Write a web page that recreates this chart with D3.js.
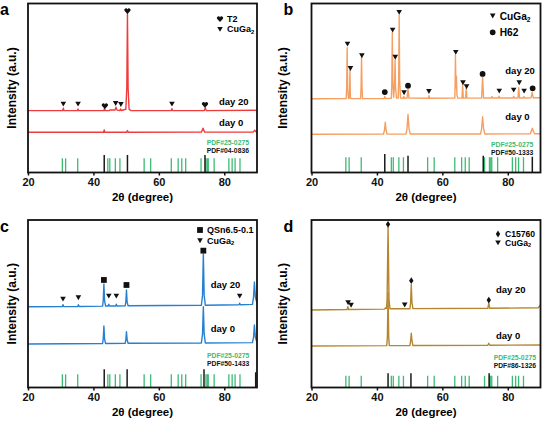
<!DOCTYPE html>
<html>
<head>
<meta charset="utf-8">
<script src="https://cdn.jsdelivr.net/npm/d3@7"></script>
<style>
  html, body { margin: 0; padding: 0; background: #fff; }
  svg { display: block; font-family: "Liberation Sans", Arial, sans-serif; font-weight: bold; }
</style>
</head>
<body>
<div id="chart"></div>
<script>
// intensities are in % of the frame height (0 = bottom, 100 = top)

// shared CuGa2 reference sticks, PDF#25-0275
const cuga2Sticks = [30.5, 31.5, 35.2, 44.4, 45.0, 46.7, 48.1, 55.5, 57.5, 63.8, 65.9, 67.0,
  68.2, 72.9, 74.4, 74.8, 75.1, 76.9, 81.4, 82.4, 83.3, 84.8];

// ---- panel a : T2
const aDay20 = [[20,36.6],[30.6,36.6],[30.8,38.0],[31.0,36.6],[35.1,36.6],[35.3,37.6],[35.5,36.6],
  [43.2,36.6],[43.4,38.0],[43.6,36.6],[44.8,36.7],[45.2,37.0],[46.6,37.0],[46.9,38.6],[47.2,36.9],
  [48.1,36.7],[48.3,37.6],[48.5,36.7],[49.9,37.4],[50.2,50],[50.4,94.4],[50.6,50],[50.9,37.4],
  [51.5,36.6],[63.8,36.6],[64.0,37.8],[64.2,36.6],[73.9,36.6],[74.2,38.4],[74.5,36.6],[90,36.8]];
const aDay0 = [[20,23.8],[43.1,23.8],[43.3,25.2],[43.5,23.8],[50.2,23.8],[50.4,24.8],[50.6,23.8],
  [73.0,23.9],[73.5,26.2],[74.0,23.9],[88.8,23.9],[89.3,25.0],[89.8,24.0],[90,24.0]];
const aRef = [[43.3,10.4],[50.4,10.4],[74.1,10.4]];
const aHeart = [[43.5,39.3],[50.4,95.6],[74.1,40.1]];
const aTri = [[30.8,40.5],[35.3,40.5],[46.8,40.9],[48.4,40.3],[64.0,40.5]];

// ---- panel b : H62
const bDay20 = [[20,43.6],[30.6,43.7],[30.75,50],[30.9,73.8],[31.05,50],[31.3,43.8],[31.6,44],
  [31.75,60.7],[31.9,44.2],[32.1,43.7],[35.0,43.7],[35.15,50],[35.3,68.2],[35.45,50],[35.6,43.7],
  [42.2,43.8],[42.4,45.0],[42.6,43.8],[44.4,43.9],[44.55,52],[44.7,82.7],[44.85,55],[45.1,44.5],
  [45.4,52],[45.55,66.6],[45.7,50],[46.0,44],[46.5,44],[46.65,55],[46.8,93.2],[46.95,55],[47.2,44],
  [48.0,43.9],[48.2,45.0],[48.4,43.9],[49.2,44],[49.5,49.8],[49.8,44],[55.7,43.9],[55.9,45.4],
  [56.1,43.9],[63.8,44],[63.9,52],[64.0,69.5],[64.15,50],[64.3,57],[64.45,46],[64.7,44],
  [66.0,44],[66.2,51.8],[66.4,44],[67.1,44],[67.3,49.8],[67.5,44],[72.0,44.1],[72.3,56.3],
  [72.6,44.1],[75.0,44.1],[75.2,45.0],[75.4,44.1],[77.1,44.1],[77.3,45.2],[77.5,44.1],
  [81.6,44.1],[81.8,45.2],[82.0,44.1],[83.1,44.1],[83.35,50.2],[83.6,44.1],[84.7,44.1],
  [84.9,45.0],[85.1,44.1],[87.1,44.2],[87.45,47.4],[87.8,44.2],[90,44.2]];
const bDay0 = [[20,22.6],[42.0,22.7],[42.3,25],[42.55,29.7],[42.8,25],[43.1,22.7],[48.9,22.8],
  [49.2,26],[49.5,34.4],[49.8,26],[50.2,22.8],[71.7,22.8],[72.0,26],[72.3,33.0],[72.6,26],
  [73.0,22.8],[86.9,22.9],[87.2,24.5],[87.5,26.2],[87.8,24.5],[88.2,22.9],[90,22.9]];
const bRef = [[42.4,10.9],[49.5,9.9],[72.5,9.9],[87.5,9.3]];
const bTri = [[31.0,76.0],[31.9,61.6],[35.4,69.1],[44.8,84.3],[45.6,68.2],[46.8,94.8],[48.3,47.2],
  [55.9,48.0],[64.1,71.1],[66.3,53.1],[67.4,50.8],[77.4,48.2],[81.8,48.8],[83.5,53.1],[85.0,48.2]];
const bDot = [[42.4,47.6],[49.5,51.4],[72.3,58.3],[87.6,49.8]];

// ---- panel c : QSn6.5-0.1
const cDay20 = [[20,48.2],[30.5,48.3],[30.7,49.4],[30.9,48.3],[35.2,48.4],[35.4,49.4],[35.6,48.4],
  [42.8,48.6],[43.0,52],[43.2,61.8],[43.4,52],[43.7,48.7],[44.5,48.7],[44.7,49.7],[44.9,48.7],
  [46.8,48.7],[47.0,49.7],[47.2,48.7],[49.7,48.8],[49.9,51],[50.1,58.2],[50.3,51],[50.6,48.8],
  [73.0,49.1],[73.35,55],[73.6,79.8],[73.85,55],[74.2,49.1],[84.5,49.4],[84.7,50.3],[84.9,49.4],
  [88.6,49.6],[88.95,54],[89.2,63],[89.5,54],[89.9,51],[90,50.5]];
const cDay0 = [[20,26.0],[42.8,26.3],[43.0,29],[43.2,36.7],[43.4,29],[43.7,26.3],[49.7,26.4],
  [49.9,28.5],[50.1,33.3],[50.3,28.5],[50.6,26.4],[73.0,26.6],[73.35,32],[73.6,48.2],[73.85,32],
  [74.2,26.6],[88.6,26.8],[88.95,30],[89.2,37.3],[89.5,30],[89.9,27.5],[90,27.2]];
const cRef = [[43.3,10.9],[50.3,10.9],[73.8,10.9],[89.6,9.1]];
const cSquare = [[43.2,64.2],[50.1,61.2],[73.6,81.7]];
const cTri = [[30.7,52.8],[35.4,53.6],[44.7,54.6],[47.0,54.6],[84.7,54.6]];

// ---- panel d : C15760
const dDay20 = [[20,46.3],[30.9,46.6],[31.1,48.3],[31.3,46.6],[42.3,46.8],[42.6,47.5],[42.9,47.2],
  [43.1,52],[43.4,95.5],[43.7,52],[44.0,47],[50.1,47],[50.3,51],[50.5,61.5],[50.7,51],[51.0,47.1],
  [73.9,47.3],[74.2,50.3],[74.5,47.3],[89.3,47.6],[89.7,48.5],[90,49.3]];
const dDay0 = [[20,24.8],[43.0,25],[43.2,30],[43.4,56.6],[43.6,30],[43.8,25],[50.1,25.1],
  [50.3,28],[50.5,32.4],[50.7,28],[51.0,25.1],[73.9,25.2],[74.2,26.4],[74.5,25.2],[90,25.4]];
const dRef = [[43.4,8.5],[50.4,8.5],[74.3,8.5]];
const dDiamond = [[43.4,97.4],[50.5,63.8],[74.2,52.2]];
const dTri = [[31.2,50.6],[32.1,49.1],[48.5,49.3]];

const xTicks = [20, 40, 60, 80];

const shapes = {
  tri: 'M-2.8,-2.4L2.8,-2.4L0,2.5Z',
  heart: 'M0,3L-3,-0.3A1.55,1.55 0 0 1 0,-1.7A1.55,1.55 0 0 1 3,-0.3Z',
  square: 'M-2.9,-2.9h5.8v5.8h-5.8Z',
  diamond: 'M0,-3.4L2.2,0L0,3.4L-2.2,0Z',
  dot: 'M2.9,0A2.9,2.9 0 1 1 -2.9,0A2.9,2.9 0 1 1 2.9,0Z'
};

const panels = [
  { letter: 'a', x0: 28, x1: 257, y0: 3.5, y1: 172.5, color: '#ee3b3b', day20: aDay20, day0: aDay0,
    ref: aRef, greenH: 8.4, refName: 'PDF#04-0836', pdfX: 249, pdfY: 142.3, ylabX: 12,
    d20: [219, 101], d0: [219, 122.5],
    marks: [['heart', aHeart], ['tri', aTri]],
    legend: { x: 220, font: 9, rows: [['heart', 19, 'T2', false], ['tri', 29.3, 'CuGa', true]] } },
  { letter: 'b', x0: 311.5, x1: 540.5, y0: 3.5, y1: 172.5, color: '#f5a062', day20: bDay20, day0: bDay0,
    ref: bRef, greenH: 9.0, refName: 'PDF#50-1333', pdfX: 533.3, pdfY: 144.3, ylabX: 283,
    d20: [505.3, 70.7], d0: [505.3, 116],
    marks: [['tri', bTri], ['dot', bDot]],
    legend: { x: 492.7, font: 10.2, rows: [['tri', 16, 'CuGa', true], ['dot', 32.3, 'H62', false]] } },
  { letter: 'c', x0: 28, x1: 257, y0: 220, y1: 387.5, color: '#2680d2', day20: cDay20, day0: cDay0,
    ref: cRef, greenH: 7.9, refName: 'PDF#50-1433', pdfX: 249.3, pdfY: 355, ylabX: 12,
    d20: [210.7, 284], d0: [210.7, 328.3],
    marks: [['square', cSquare], ['tri', cTri]],
    legend: { x: 200, font: 9, rows: [['square', 230, 'QSn6.5-0.1', false], ['tri', 240.7, 'CuGa', true]] } },
  { letter: 'd', x0: 311.5, x1: 540.5, y0: 220, y1: 387.5, color: '#b5862f', day20: dDay20, day0: dDay0,
    ref: dRef, greenH: 7.0, refName: 'PDF#86-1326', pdfX: 536, pdfY: 357, ylabX: 283,
    d20: [496, 289], d0: [496, 335.7],
    marks: [['diamond', dDiamond], ['tri', dTri]],
    legend: { x: 498, font: 8.6, rows: [['diamond', 234, 'C15760', false], ['tri', 242.8, 'CuGa', true]] } }
];

const svg = d3.select('#chart')
  .append('svg')
  .attr('width', 543)
  .attr('height', 421)

panels.forEach((p, i) => {
  const x = d3.scaleLinear().domain([20, 90]).range([p.x0, p.x1]);
  const y = d3.scaleLinear().domain([0, 100]).range([p.y1, p.y0]);
  const g = svg.append('g');

  g.append('clipPath').attr('id', 'clip' + i)
    .append('rect')
    .attr('x', p.x0).attr('y', p.y0)
    .attr('width', p.x1 - p.x0).attr('height', p.y1 - p.y0);

  const plot = g.append('g').attr('clip-path', `url(#clip${i})`);

  // reference sticks
  plot.selectAll('.green')
    .data(cuga2Sticks)
    .enter()
    .append('line')
    .attr('x1', d => x(d)).attr('x2', d => x(d))
    .attr('y1', y(0)).attr('y2', y(p.greenH))
    .attr('stroke', '#3dbb73')
    .attr('stroke-width', 1.3)

  plot.selectAll('.black')
    .data(p.ref)
    .enter()
    .append('line')
    .attr('x1', d => x(d[0])).attr('x2', d => x(d[0]))
    .attr('y1', y(0)).attr('y2', d => y(d[1]))
    .attr('stroke', '#1a1a1a')
    .attr('stroke-width', 1.5)

  const line = d3.line().x(d => x(d[0])).y(d => y(d[1]));

  [p.day0, p.day20].forEach(s => {
    plot.append('path')
      .attr('d', line(s))
      .attr('fill', 'none')
      .attr('stroke', p.color)
      .attr('stroke-width', 1.4)
      .attr('stroke-linejoin', 'round')
  })

  // phase markers
  p.marks.forEach(([shape, pts]) => {
    g.selectAll(null)
      .data(pts)
      .enter()
      .append('path')
      .attr('d', shapes[shape])
      .attr('transform', d => `translate(${x(d[0])},${y(d[1])})`)
      .attr('fill', '#111')
  })

  // frame
  g.append('rect')
    .attr('x', p.x0).attr('y', p.y0)
    .attr('width', p.x1 - p.x0).attr('height', p.y1 - p.y0)
    .attr('fill', 'none')
    .attr('stroke', '#111')
    .attr('stroke-width', 1.8)

  const xAxis = d3.axisBottom(x)
    .tickValues(xTicks)
    .tickSize(3)
    .tickPadding(3)
    .tickFormat(d3.format('d'));

  const ax = g.append('g')
    .attr('transform', `translate(0,${p.y1})`)
    .call(xAxis)
  ax.select('.domain').remove();
  ax.selectAll('line').attr('stroke', '#111').attr('stroke-width', 1.5);
  ax.selectAll('text')
    .attr('fill', '#111')
    .style('font-size', '11px')
    .style('font-weight', 'bold')
    .style('font-family', '"Liberation Sans", Arial, sans-serif');

  g.append('text')
    .attr('x', (p.x0 + p.x1) / 2)
    .attr('y', p.y1 + 24)
    .attr('text-anchor', 'middle')
    .attr('dominant-baseline', 'central')
    .style('font-size', '11.5px')
    .text('2θ (degree)')

  g.append('text')
    .attr('transform', `translate(${p.ylabX},${(p.y0 + p.y1) / 2}) rotate(-90)`)
    .attr('text-anchor', 'middle')
    .attr('dominant-baseline', 'central')
    .style('font-size', '12px')
    .text('Intensity (a.u.)')

  g.append('text')
    .attr('x', p.x0 - 28)
    .attr('y', p.y0 + 11.5)
    .style('font-size', '16px')
    .text(p.letter)

  // curve labels
  g.append('text').attr('x', p.d20[0]).attr('y', p.d20[1])
    .attr('dominant-baseline', 'central').style('font-size', '9.5px').text('day 20')
  g.append('text').attr('x', p.d0[0]).attr('y', p.d0[1])
    .attr('dominant-baseline', 'central').style('font-size', '9.5px').text('day 0')

  g.append('text').attr('x', p.pdfX).attr('y', p.pdfY)
    .attr('text-anchor', 'end').attr('dominant-baseline', 'central')
    .attr('fill', '#3dbb73').style('font-size', '6.8px').text('PDF#25-0275')
  g.append('text').attr('x', p.pdfX).attr('y', p.pdfY + 8.6)
    .attr('text-anchor', 'end').attr('dominant-baseline', 'central')
    .attr('fill', '#111').style('font-size', '6.8px').text(p.refName)

  // legend
  p.legend.rows.forEach(([shape, ly, label, sub]) => {
    g.append('path')
      .attr('d', shapes[shape])
      .attr('transform', `translate(${p.legend.x},${ly})`)
      .attr('fill', '#111')
    const t = g.append('text')
      .attr('x', p.legend.x + 7)
      .attr('y', ly)
      .attr('dominant-baseline', 'central')
      .style('font-size', p.legend.font + 'px')
      .text(label)
    if (sub) {
      t.append('tspan')
        .attr('dy', p.legend.font * 0.3)
        .style('font-size', (p.legend.font * 0.65) + 'px')
        .text('2')
    }
  })
})
</script>
</body>
</html>
